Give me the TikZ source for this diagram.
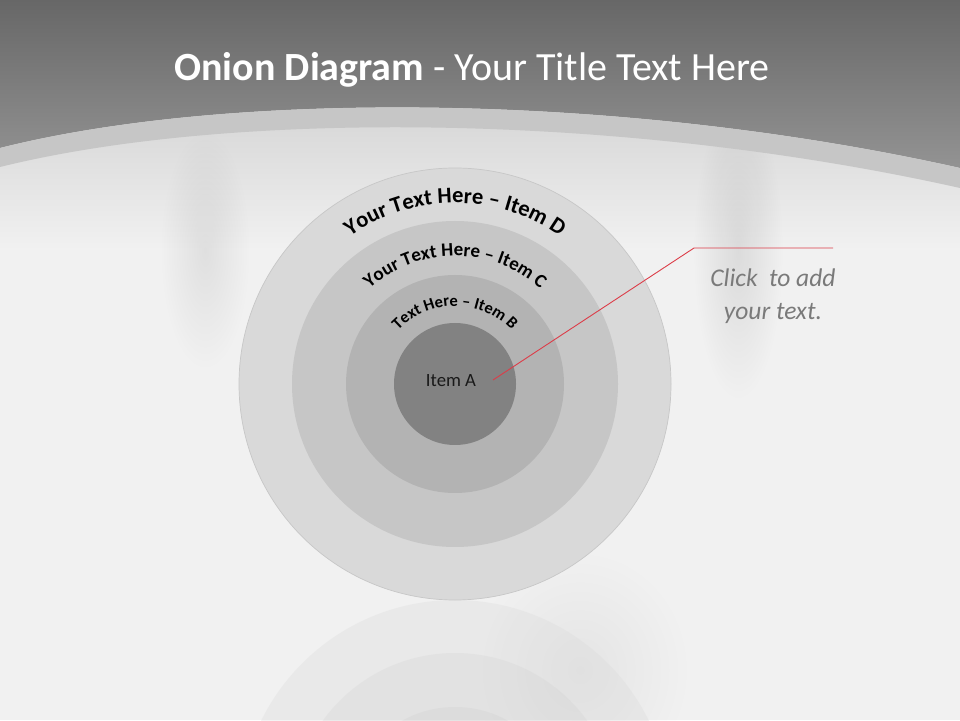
\documentclass[tikz,border=0pt]{standalone}
\usepackage{fontspec}
\setmainfont{Carlito}
\usetikzlibrary{calc,fadings,decorations.text}

\definecolor{paper}{HTML}{F1F1F1}
\definecolor{headtop}{HTML}{676767}
\definecolor{headbot}{HTML}{939393}
\definecolor{swoosh}{HTML}{C6C6C6}
\definecolor{ringD}{HTML}{D9D9D9}
\definecolor{ringC}{HTML}{C6C6C6}
\definecolor{ringB}{HTML}{B3B3B3}
\definecolor{ringA}{HTML}{828282}
\definecolor{callred}{HTML}{DC3C48}
\definecolor{callgray}{HTML}{7A7A7A}

\tikzfading[name=soft blob, inner color=transparent!0, outer color=transparent!100]

\begin{document}
\begin{tikzpicture}[x=1pt,y=1pt,
    ring/.style={circle, inner sep=0pt, draw=none},
    arclabel/.style={decorate, decoration={text along path, text align=center}},
    calltext/.style={align=center, text=callgray, font=\itshape\fontsize{25.5}{33}\selectfont}]
  \useasboundingbox (0,0) rectangle (960,720);

  % paper and the soft grey under the header
  \fill [paper] (0,0) rectangle (960,720);
  \shade [top color=black!17, bottom color=paper] (0,470) rectangle (960,625);

  % blurred shadows behind the diagram
  \fill [black, opacity=.07, path fading=soft blob] (205,470) ellipse [x radius=45, y radius=120];
  \fill [black, opacity=.09, path fading=soft blob] (738,470) ellipse [x radius=45, y radius=150];
  \fill [black, opacity=.05, path fading=soft blob] (580,50) ellipse [x radius=110, y radius=120];

  % header with its curved lower edge
  \shade [top color=headtop, bottom color=headbot]
    (0,720) -- (960,720) -- (960,552)
    .. controls (620,628) and (230,630) .. (0,572) -- cycle;

  % the light swoosh
  \fill [swoosh]
    (0,572) .. controls (230,630) and (620,628) .. (960,552)
    -- (960,532) .. controls (620,608) and (230,610) .. (0,553) -- cycle;

  % title
  \node [text=white, font=\fontsize{40}{42}\selectfont] (title) at (472,650)
    {\textbf{Onion Diagram} - Your Title Text Here};

  \coordinate (ctr) at (455,336);

  % reflection of the rings
  \begin{scope}
    \clip (0,0) rectangle (960,120);
    \foreach \nm/\r/\col/\op in {D/216/ringD/.3, C/163/ringC/.18, B/109/ringB/.12} {
      \fill [\col, opacity=\op] (455,-96) circle [radius=\r];
    }
  \end{scope}

  % the rings, outer first
  \foreach \nm/\r/\col in {D/216/ringD, C/163/ringC, B/109/ringB, A/61/ringA} {
    \node [ring, fill=\col, minimum size=2*\r] (ring-\nm) at (ctr) {};
  }
  \draw [black!22, line width=.7pt] (ctr) circle [radius=216];

  % labels on the rings
  \path [arclabel, decoration={text={|\bfseries\fontsize{22.5}{22.5}\selectfont|Your Text Here – Item D}}]
    ($(ctr)+(155:181)$) arc [start angle=155, end angle=25, radius=181];
  \path [arclabel, decoration={text={|\bfseries\fontsize{19}{19}\selectfont|Your Text Here – Item C}}]
    ($(ctr)+(160:128)$) arc [start angle=160, end angle=20, radius=128];
  \path [arclabel, decoration={text={|\bfseries\fontsize{16.5}{16.5}\selectfont|Text Here – Item B}}]
    ($(ctr)+(170:78)$) arc [start angle=170, end angle=10, radius=78];
  \node [font=\fontsize{18.7}{20}\selectfont, text=black!90] (itemA) at (451,339) {Item A};

  % callout
  \coordinate (tip) at (493,340);
  \coordinate (elbow) at (694,472);
  \coordinate (tail) at (833,472);
  \draw [callred, line width=.9pt] (tip) -- (elbow) -- (tail);
  \node [calltext] (note) at (773,424) {Click\ \ to add\\your text.};
\end{tikzpicture}
\end{document}
